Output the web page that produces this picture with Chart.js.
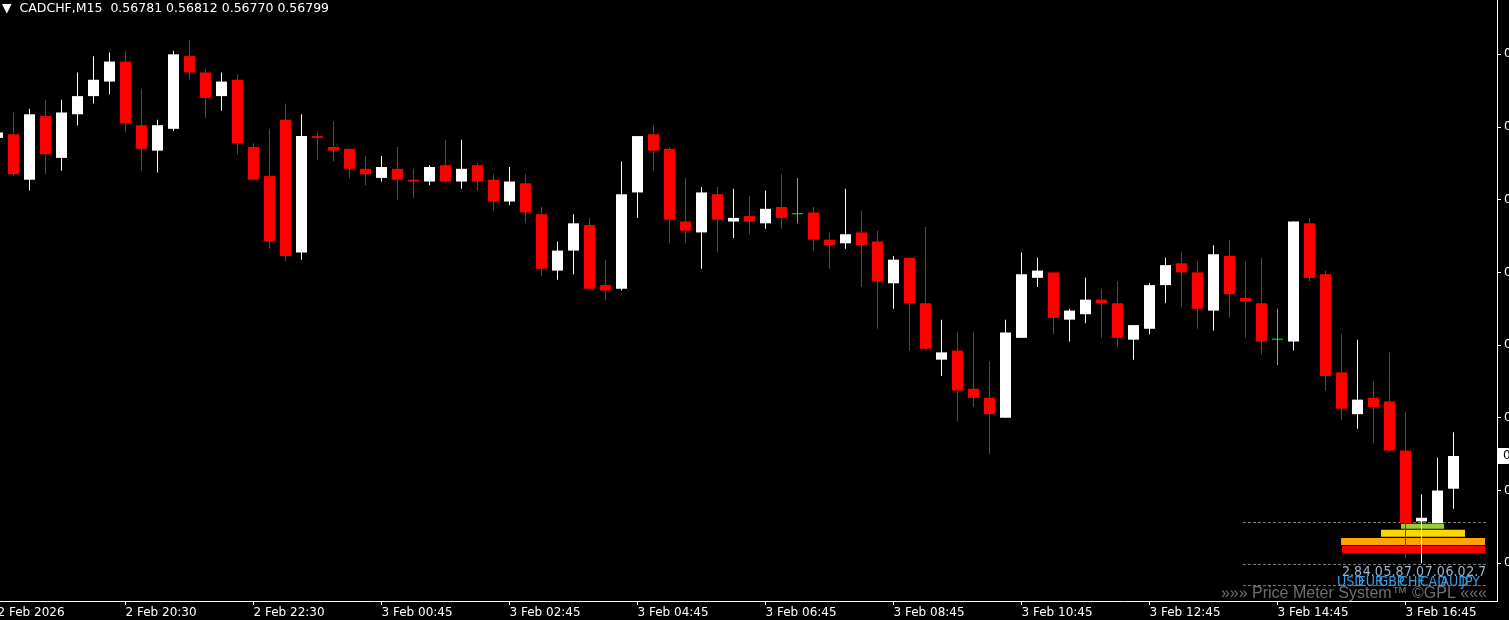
<!DOCTYPE html>
<html>
<head>
<meta charset="utf-8">
<title>CADCHF,M15</title>
<script src="https://cdn.jsdelivr.net/npm/chart.js@4.4.1/dist/chart.umd.min.js"></script>
<style>
  html, body { margin: 0; padding: 0; background: #000; overflow: hidden; }
  #wrap { position: relative; width: 1509px; height: 620px; }
  #title { position: absolute; left: 2px; top: 0; color: #fff; font: 12.5px/15px "DejaVu Sans", sans-serif; white-space: pre; }
</style>
</head>
<body>
<div id="wrap">
  <canvas id="chart"></canvas>
  <div id="title"></div>
</div>
<script>
const symbol = 'CADCHF';
const timeframe = 'M15';

// one candle per 15 minutes, oldest first (bar 0 is cut by the left edge)
const opens = [
  0.56974, 0.56976, 0.56951, 0.56986, 0.56963, 0.56987, 0.56997, 0.57005, 0.57016, 0.56981,
  0.56967, 0.56979, 0.57019, 0.57010, 0.56997, 0.57006, 0.56969, 0.56953, 0.56984, 0.56911,
  0.56975, 0.56969, 0.56968, 0.56957, 0.56952, 0.56957, 0.56951, 0.56950, 0.56959, 0.56950,
  0.56959, 0.56951, 0.56939, 0.56949, 0.56932, 0.56901, 0.56912, 0.56926, 0.56893, 0.56891,
  0.56944, 0.56976, 0.56968, 0.56928, 0.56922, 0.56943, 0.56928, 0.56931, 0.56927, 0.56936,
  0.56932, 0.56933, 0.56918, 0.56916, 0.56922, 0.56917, 0.56894, 0.56908, 0.56883, 0.56852,
  0.56857, 0.56836, 0.56831, 0.56820, 0.56864, 0.56897, 0.56900, 0.56874, 0.56877, 0.56885,
  0.56883, 0.56863, 0.56869, 0.56893, 0.56905, 0.56900, 0.56879, 0.56909, 0.56886, 0.56883,
  0.56863, 0.56862, 0.56927, 0.56899, 0.56845, 0.56822, 0.56831, 0.56829, 0.56802, 0.56763,
  0.56762, 0.56781
];
const highs = [
  0.56979, 0.56988, 0.56990, 0.56995, 0.56995, 0.57010, 0.57019, 0.57021, 0.57022, 0.57001,
  0.56984, 0.57022, 0.57028, 0.57012, 0.57010, 0.57009, 0.56971, 0.56979, 0.56993, 0.56987,
  0.56977, 0.56983, 0.56968, 0.56964, 0.56964, 0.56969, 0.56957, 0.56959, 0.56973, 0.56973,
  0.56960, 0.56954, 0.56958, 0.56954, 0.56936, 0.56917, 0.56932, 0.56930, 0.56907, 0.56961,
  0.56975, 0.56981, 0.56969, 0.56952, 0.56947, 0.56947, 0.56946, 0.56942, 0.56945, 0.56954,
  0.56952, 0.56936, 0.56922, 0.56946, 0.56934, 0.56923, 0.56909, 0.56908, 0.56925, 0.56874,
  0.56867, 0.56867, 0.56851, 0.56874, 0.56911, 0.56908, 0.56900, 0.56880, 0.56897, 0.56891,
  0.56895, 0.56871, 0.56894, 0.56908, 0.56911, 0.56906, 0.56915, 0.56918, 0.56906, 0.56908,
  0.56880, 0.56928, 0.56930, 0.56901, 0.56866, 0.56863, 0.56840, 0.56856, 0.56823, 0.56778,
  0.56798, 0.56812
];
const lows = [
  0.56973, 0.56953, 0.56945, 0.56954, 0.56956, 0.56981, 0.56993, 0.56998, 0.56977, 0.56956,
  0.56955, 0.56978, 0.57006, 0.56985, 0.56989, 0.56965, 0.56951, 0.56913, 0.56906, 0.56907,
  0.56962, 0.56961, 0.56952, 0.56948, 0.56950, 0.56940, 0.56941, 0.56948, 0.56949, 0.56946,
  0.56945, 0.56934, 0.56937, 0.56927, 0.56898, 0.56896, 0.56899, 0.56891, 0.56885, 0.56890,
  0.56930, 0.56956, 0.56916, 0.56916, 0.56902, 0.56911, 0.56919, 0.56921, 0.56924, 0.56924,
  0.56927, 0.56912, 0.56902, 0.56913, 0.56892, 0.56869, 0.56880, 0.56857, 0.56857, 0.56843,
  0.56818, 0.56826, 0.56800, 0.56820, 0.56864, 0.56892, 0.56866, 0.56862, 0.56872, 0.56864,
  0.56859, 0.56852, 0.56866, 0.56883, 0.56881, 0.56869, 0.56868, 0.56875, 0.56864, 0.56855,
  0.56849, 0.56857, 0.56895, 0.56835, 0.56819, 0.56814, 0.56806, 0.56801, 0.56743, 0.56740,
  0.56762, 0.56770
];
const closes = [
  0.56977, 0.56954, 0.56987, 0.56965, 0.56988, 0.56997, 0.57006, 0.57016, 0.56982, 0.56968,
  0.56981, 0.57020, 0.57010, 0.56996, 0.57005, 0.56971, 0.56951, 0.56917, 0.56909, 0.56975,
  0.56974, 0.56967, 0.56957, 0.56954, 0.56958, 0.56951, 0.56950, 0.56958, 0.56950, 0.56957,
  0.56950, 0.56939, 0.56950, 0.56933, 0.56902, 0.56912, 0.56927, 0.56891, 0.56890, 0.56943,
  0.56975, 0.56967, 0.56929, 0.56923, 0.56944, 0.56929, 0.56930, 0.56928, 0.56935, 0.56930,
  0.56932, 0.56918, 0.56915, 0.56921, 0.56915, 0.56895, 0.56907, 0.56883, 0.56858, 0.56856,
  0.56835, 0.56831, 0.56822, 0.56867, 0.56899, 0.56901, 0.56875, 0.56879, 0.56885, 0.56883,
  0.56864, 0.56871, 0.56893, 0.56904, 0.56900, 0.56880, 0.56910, 0.56888, 0.56884, 0.56862,
  0.56863, 0.56928, 0.56897, 0.56843, 0.56825, 0.56830, 0.56826, 0.56802, 0.56762, 0.56765,
  0.56780, 0.56799
];

const xTickIndex = [0, 8, 16, 24, 32, 40, 48, 56, 64, 72, 80, 88];
const xTickLabels = ['2 Feb 2026', '2 Feb 20:30', '2 Feb 22:30', '3 Feb 00:45', '3 Feb 02:45', '3 Feb 04:45',
                     '3 Feb 06:45', '3 Feb 08:45', '3 Feb 10:45', '3 Feb 12:45', '3 Feb 14:45', '3 Feb 16:45'];
const yTickValues = [0.5674, 0.5678, 0.5682, 0.5686, 0.5690, 0.5694, 0.5698, 0.5702];

// Price Meter System indicator
const meterCurrencies = ['USD', 'EUR', 'GBP', 'CHF', 'CAD', 'AUD', 'JPY'];
const meterScores = ['2.8', '4.0', '5.8', '7.0', '7.0', '6.0', '2.7'];
const meterLevels = [0.567603, 0.567565, 0.567520, 0.567476];
const meterFrom = [87.72, 86.47, 83.97, 84.03];
const meterTo = [90.41, 91.72, 92.97, 92.97];
const guideLevels = [0.567624, 0.567393, 0.567277];
const guideFrom = 77.84;
const guideTo = 93.09;

const meterColors = ['#9acd32', '#ffd700', '#ffa500', '#ff0000'];
const meterThickness = [5, 7, 7, 7];

const last = closes.length - 1;
document.getElementById('title').textContent =
    '\u25BC  ' + symbol + ',' + timeframe + '  ' +
    [opens[last], highs[last], lows[last], closes[last]].map(v => v.toFixed(5)).join(' ');

const idx = opens.map((_, i) => i);
const candleColor = idx.map(i => {
    if (closes[i] > opens[i]) return '#ffffff';
    if (closes[i] < opens[i]) return '#ff0000';
    return '#00ff00'; // doji
});

const meterSets = meterLevels.map((lvl, k) => ({
    type: 'line',
    data: [{x: meterFrom[k], y: lvl}, {x: meterTo[k], y: lvl}],
    borderColor: meterColors[k],
    borderWidth: meterThickness[k],
    borderCapStyle: 'butt',
    pointRadius: 0,
    fill: false,
    order: 4
}));

const guideSets = guideLevels.map(lvl => ({
    type: 'line',
    data: [{x: guideFrom, y: lvl}, {x: guideTo, y: lvl}],
    borderColor: '#7a7a7a',
    borderWidth: 1,
    borderDash: [3, 2],
    pointRadius: 0,
    fill: false,
    order: 3
}));

const meterText = {
    id: 'meterText',
    afterDraw(chart) {
        const {ctx, chartArea, scales} = chart;
        const r = chartArea.right, b = chartArea.bottom;
        ctx.save();
        ctx.textBaseline = 'alphabetic';
        ctx.textAlign = 'left';
        ctx.font = '14px "Liberation Sans Narrow", "DejaVu Sans Condensed", sans-serif';
        meterScores.forEach((s, i) => {
            ctx.fillStyle = '#9db4cf';
            ctx.fillText(s, r - 155 + i * 20.7, b - 25);
        });
        meterCurrencies.forEach((c, i) => {
            ctx.fillStyle = '#3d9be0';
            ctx.fillText(c, r - 160 + i * 20.7, b - 15);
        });
        ctx.font = '16px "Liberation Sans", Arial, sans-serif';
        ctx.fillStyle = '#6f6f6f';
        ctx.textAlign = 'right';
        ctx.fillText('\u00BB\u00BB\u00BB Price Meter System\u2122 \u00A9GPL \u00AB\u00AB\u00AB', r - 10, b - 3);

        // current price marker on the price axis
        const py = scales.y.getPixelForValue(closes[last]);
        ctx.fillStyle = '#ffffff';
        ctx.fillRect(r + 1, Math.round(py) - 8, 12, 16);
        ctx.fillStyle = '#000000';
        ctx.textAlign = 'left';
        ctx.textBaseline = 'middle';
        ctx.font = '12px "DejaVu Sans", sans-serif';
        ctx.fillText(closes[last].toFixed(5), r + 6, py);
        ctx.restore();
    }
};

Chart.defaults.font.family = '"DejaVu Sans", sans-serif';

new Chart(document.getElementById('chart'), {
    type: 'bar',
    data: {
        datasets: [
            ...meterSets,
            ...guideSets,
            {
                label: 'wicks',
                data: idx.map(i => ({x: i, y: [lows[i], highs[i]]})),
                backgroundColor: candleColor,
                barThickness: 1,
                grouped: false,
                inflateAmount: 0,
                borderWidth: 0,
                order: 2
            },
            {
                label: 'bodies',
                data: idx.map(i => ({x: i, y: [opens[i], closes[i]]})),
                backgroundColor: candleColor,
                barThickness: 11,
                minBarLength: 1,
                grouped: false,
                inflateAmount: 0,
                borderWidth: 0,
                order: 1
            }
        ]
    },
    options: {
        responsive: true,
        maintainAspectRatio: false,
        devicePixelRatio: 1,
        animation: false,
        events: [],
        layout: { padding: 0 },
        plugins: {
            legend: { display: false },
            tooltip: { enabled: false }
        },
        scales: {
            x: {
                type: 'linear',
                min: 0.15625,
                max: 93.71875,
                bounds: 'data',
                offset: false,
                grid: { display: true, offset: false, drawOnChartArea: false, drawTicks: true, tickLength: 4, color: '#ffffff' },
                border: { display: true, color: '#ffffff', width: 1 },
                ticks: {
                    color: '#ffffff',
                    font: { size: 12 },
                    padding: 1,
                    align: 'start',
                    autoSkip: false,
                    maxRotation: 0,
                    minRotation: 0,
                    callback: (v, i) => xTickLabels[i]
                },
                afterBuildTicks: s => { s.ticks = xTickIndex.map(v => ({value: v})); },
                afterFit: s => { s.height = 19; s.paddingLeft = 0; s.paddingRight = 0; }
            },
            y: {
                type: 'linear',
                position: 'right',
                min: 0.5671921,
                max: 0.5704988,
                bounds: 'data',
                beginAtZero: false,
                grid: { display: true, drawOnChartArea: false, drawTicks: true, tickLength: 4, color: '#ffffff' },
                border: { display: true, color: '#ffffff', width: 1 },
                ticks: {
                    color: '#ffffff',
                    font: { size: 12 },
                    padding: 3,
                    autoSkip: false,
                    callback: v => v.toFixed(5)
                },
                afterBuildTicks: s => { s.ticks = yTickValues.map(v => ({value: v})); },
                afterFit: s => { s.width = 12; s.paddingTop = 0; s.paddingBottom = 0; }
            }
        }
    },
    plugins: [meterText]
});
</script>
</body>
</html>
